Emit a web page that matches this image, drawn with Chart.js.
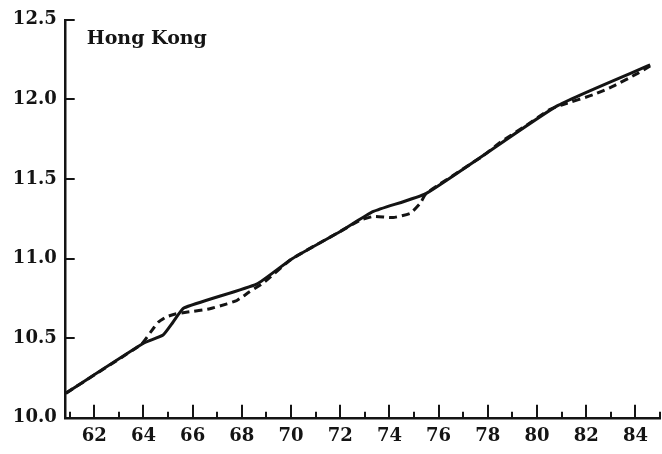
<!DOCTYPE html>
<html><head><meta charset="utf-8">
<script src="https://cdn.jsdelivr.net/npm/chart.js@4.4.1/dist/chart.umd.min.js"></script>
<style>html,body{margin:0;padding:0;background:#fff;}#wrap{width:662px;height:454px;}</style>
</head><body><div id="wrap"><canvas id="c" width="662" height="454"></canvas></div>
<script>
const chartTitle = 'Hong Kong';
const solidYears  = [60.85, 64.0, 64.8, 65.2, 65.65, 68.6, 70.0, 72.0, 73.35, 75.5, 80.8, 84.6];
const solidValues = [10.155, 10.468, 10.52, 10.6, 10.69, 10.84, 10.995, 11.17, 11.296, 11.41, 11.958, 12.217];
const dashedYears  = [60.85, 63.9, 64.3, 64.6, 64.95, 65.3, 65.8, 66.7, 67.4, 67.8, 68.3, 68.9, 70.0, 72.0, 72.8, 73.35, 74.15, 74.85, 75.25, 75.5, 77.8, 78.5, 79.5, 80.5, 81.0, 82.3, 83.1, 84.05, 84.6];
const dashedValues = [10.155, 10.46, 10.54, 10.60, 10.635, 10.652, 10.664, 10.685, 10.716, 10.737, 10.79, 10.85, 10.995, 11.17, 11.24, 11.265, 11.258, 11.285, 11.347, 11.41, 11.645, 11.73, 11.83, 11.935, 11.965, 12.03, 12.083, 12.16, 12.21];
const xMajorTicks = [62, 64, 66, 68, 70, 72, 74, 76, 78, 80, 82, 84];
const xMinorTicks = [61, 63, 65, 67, 69, 71, 73, 75, 77, 79, 81, 83, 85];
const yTicks = [10.0, 10.5, 11.0, 11.5, 12.0, 12.5];

const INK = '#141414';
const FONT = "'DejaVu Serif', 'Liberation Serif', serif";

const toPts = (xs, ys) => xs.map((x, i) => ({x: x, y: ys[i]}));

const tickPlugin = {
  id: 'inwardTicks',
  afterDraw(chart) {
    const ctx = chart.ctx;
    const xs = chart.scales.x, ys = chart.scales.y;
    const ca = chart.chartArea;
    ctx.save();
    ctx.strokeStyle = INK;
    ctx.lineWidth = 2;
    ctx.beginPath();
    xMajorTicks.forEach(v => { const px = Math.round(xs.getPixelForValue(v)); ctx.moveTo(px, ca.bottom); ctx.lineTo(px, ca.bottom - 13); });
    xMinorTicks.forEach(v => { const px = Math.round(xs.getPixelForValue(v)); ctx.moveTo(px, ca.bottom); ctx.lineTo(px, ca.bottom - 6); });
    yTicks.forEach(v => { const py = Math.round(ys.getPixelForValue(v)); ctx.moveTo(ca.left, py); ctx.lineTo(ca.left + 9, py); });
    ctx.stroke();
    ctx.fillStyle = INK;
    ctx.font = "bold 19px " + FONT;
    ctx.textBaseline = 'alphabetic';
    ctx.textAlign = 'left';
    ctx.fillText(chartTitle, ca.left + 21, ca.top + 24);
    ctx.restore();
  }
};

new Chart(document.getElementById('c'), {
  type: 'line',
  data: {
    datasets: [
      { data: toPts(solidYears, solidValues), borderColor: INK, borderWidth: 3, pointRadius: 0, tension: 0.15, fill: false },
      { data: toPts(dashedYears, dashedValues), borderColor: INK, borderWidth: 3, borderDash: [8, 5], pointRadius: 0, tension: 0.15, fill: false }
    ]
  },
  options: {
    responsive: false,
    devicePixelRatio: 1,
    animation: false,
    layout: { padding: { top: 16, right: 2, left: 0, bottom: 0 } },
    plugins: { legend: { display: false }, tooltip: { enabled: false }, title: { display: false } },
    scales: {
      x: {
        type: 'linear', min: 60.84, max: 85.0,
        afterBuildTicks: s => { s.ticks = xMajorTicks.map(v => ({value: v})); },
        afterFit: s => { s.height = 36.2; },
        grid: { display: true, drawOnChartArea: false, drawTicks: false },
        border: { display: true, color: INK, width: 2.5 },
        ticks: { color: INK, font: { family: FONT, size: 18, weight: 'bold' }, padding: 8, maxRotation: 0, autoSkip: false, callback: v => String(v) }
      },
      y: {
        type: 'linear', min: 10.0, max: 12.5,
        afterBuildTicks: s => { s.ticks = yTicks.map(v => ({value: v})); },
        afterFit: s => { s.width = 65.7; },
        grid: { display: true, drawOnChartArea: false, drawTicks: false },
        border: { display: true, color: INK, width: 2.5 },
        ticks: { color: INK, font: { family: FONT, size: 18, weight: 'bold' }, padding: 9, callback: v => Number(v).toFixed(1) }
      }
    }
  },
  plugins: [tickPlugin]
});
</script>
</body></html>
